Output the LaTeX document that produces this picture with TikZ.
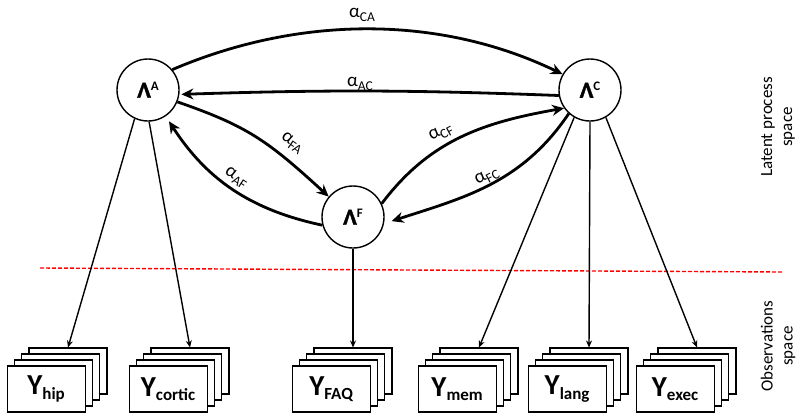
\documentclass[tikz,border=0pt]{standalone}
\usepackage{fontspec}
\setmainfont{Carlito}
\newfontface\lamface{Carlito Bold}[FakeBold=1.6]
\usetikzlibrary{arrows.meta}

% Text pieces
\newcommand{\latlabel}[1]{{\fontsize{23}{23}\selectfont\lamface Λ}\raisebox{7pt}{\fontsize{13}{13}\selectfont\bfseries #1}}
\newcommand{\ratelabel}[1]{α\raisebox{-4pt}{\fontsize{13.5}{13.5}\selectfont #1}}
\newcommand{\obslabel}[1]{{\fontsize{29}{29}\selectfont\bfseries Y}\raisebox{-4.5pt}{\fontsize{17}{17}\selectfont\bfseries #1}}

\tikzset{
  latent/.style={circle, draw, line width=1.4pt, minimum size=62pt, inner sep=0pt},
  flow/.style={line width=2.8pt, -{Stealth[length=12pt,width=11pt]}},
  obs/.style={line width=1.4pt, -{Stealth[length=7pt,width=6pt]}},
  sheet/.style={draw, line width=1.1pt, fill=white, minimum width=78pt, minimum height=46pt, inner sep=0pt},
  rate/.style={inner sep=0pt, font=\fontsize{19}{19}\selectfont},
  side/.style={rotate=90, align=center, font=\fontsize{17}{20}\selectfont},
  divider/.style={draw=red, line width=1.4pt, dash pattern=on 4pt off 2pt}
}

% A stack of four measurement sheets; the back one is #1B, the front one #1
\newcommand{\obsstack}[3]{%
  \node[sheet] (#1B) at (#2,-371) {};
  \node[sheet] (#1C) at (#2-7.3,-377) {};
  \node[sheet] (#1D) at (#2-14.6,-383) {};
  \node[sheet] (#1) at (#2-21.9,-389) {\obslabel{#3}};
}

\begin{document}
\begin{tikzpicture}[x=1pt,y=1pt]
\useasboundingbox (0,0) rectangle (802,-418);

% latent processes
\node[latent] (A) at (148,-90) {\latlabel{A}};
\node[latent] (C) at (590,-90) {\latlabel{C}};
\node[latent] (F) at (353,-217) {\latlabel{F}};

% separation between the two spaces
\coordinate (d1) at (40,-268);
\coordinate (d2) at (782,-272);
\draw[divider] (d1) -- (d2);

% observation stacks
\obsstack{hip}{68}{hip}
\obsstack{cortic}{190}{cortic}
\obsstack{faq}{353}{FAQ}
\obsstack{mem}{479}{mem}
\obsstack{lang}{589}{lang}
\obsstack{exec}{697}{exec}

% measurement links
\draw[obs] (A.245) -- (hipB.north);
\draw[obs] (A.272) -- (corticB.north);
\draw[obs] (F.south) -- (faqB.north);
\draw[obs] (C.240) -- (memB.north);
\draw[obs] (C.270) -- (langB.north);
\draw[obs] (C.300) -- (execB.north);

% temporal influences between processes
\draw[flow] (A.40) .. controls (300,-15) and (440,-15) .. (C.150);
\draw[flow, shorten >=2pt] (C.190) to[bend right=2] (A.-8);
\draw[flow] (A.-22) .. controls (247,-126) and (267,-140) .. (F.140);
\draw[flow, shorten >=6pt] (F.195) to[out=168,in=-57] (A.-56);
\draw[flow] (F.25) to[out=53,in=190] (C.215);
\draw[flow, shorten >=8pt] (C.228) to[out=236,in=18] (F.-12);

% influence labels
\node[rate] (lCA) at (362,-15) {\ratelabel{CA}};
\node[rate] (lAC) at (360,-84) {\ratelabel{AC}};
\node[rate, rotate=-35] (lFA) at (292,-143) {\ratelabel{FA}};
\node[rate, rotate=-33] (lAF) at (236,-178) {\ratelabel{AF}};
\node[rate, rotate=28] (lCF) at (441,-133) {\ratelabel{CF}};
\node[rate, rotate=28] (lFC) at (487,-177) {\ratelabel{FC}};

% space captions
\node[side] (latentcap) at (778,-127) {Latent process\\space};
\node[side] (obscap) at (778,-346) {Observations\\space};
\end{tikzpicture}
\end{document}
